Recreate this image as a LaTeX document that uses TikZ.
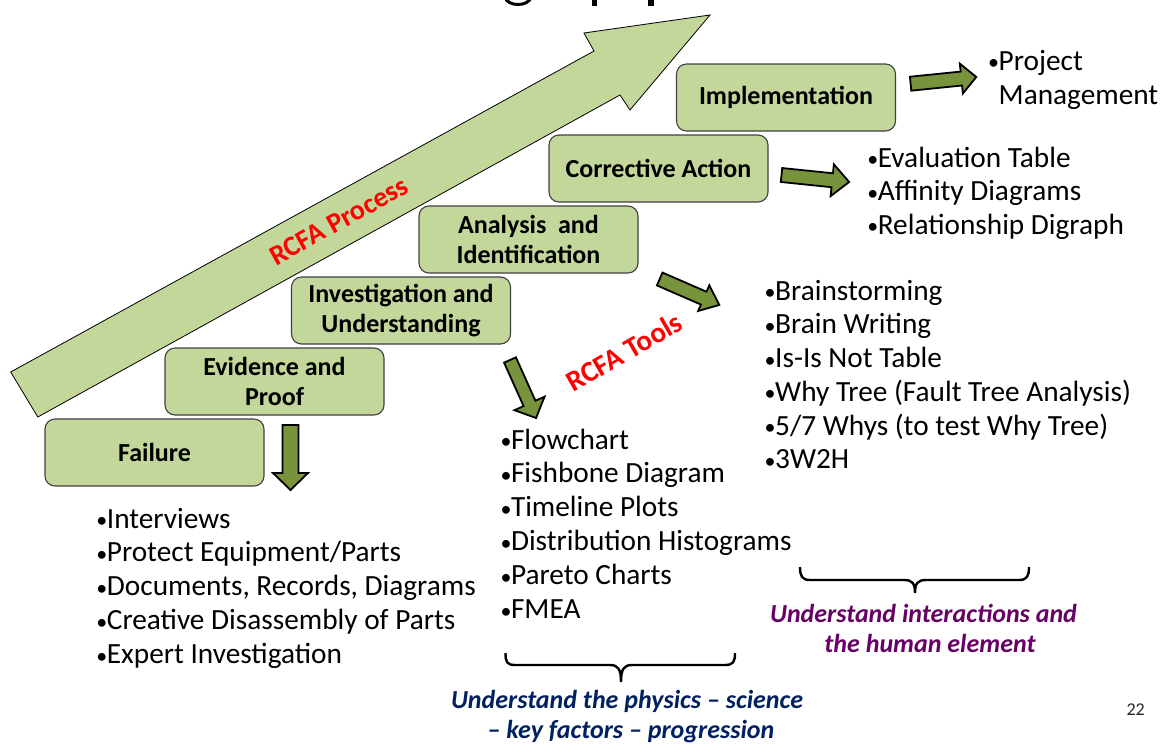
\documentclass[tikz,border=0pt]{standalone}
\usepackage{fontspec}
\setmainfont{Carlito}
\definecolor{boxgreen}{HTML}{C4D79B}
\definecolor{olivefill}{HTML}{77933C}
\definecolor{navytxt}{HTML}{002060}
\definecolor{plumtxt}{HTML}{660066}
\definecolor{redtxt}{HTML}{FF0000}
\newcommand{\bul}{\makebox[13pt][l]{\hspace{2.5pt}\raisebox{0.5pt}{\fontsize{22}{22}\selectfont •}}}
\newcommand{\barrow}[7]{%
  \begin{scope}[shift={(#1,#2)},rotate=#3]
    \draw[smallarrow] (0,{-#5/2}) -- ({#4-#7},{-#5/2}) -- ({#4-#7},{-#6/2}) -- (#4,0) -- ({#4-#7},{#6/2}) -- ({#4-#7},{#5/2}) -- (0,{#5/2}) -- cycle;
  \end{scope}}
\begin{document}
\begin{tikzpicture}[x=1pt,y=-1pt,
  stepbox/.style={draw=black!75, line width=1.1pt, fill=boxgreen, rounded corners=10pt,
    minimum width=219pt, minimum height=67pt, inner sep=0pt, align=center,
    font=\bfseries\fontsize{26}{30}\selectfont},
  listtxt/.style={anchor=base west, inner sep=0pt, font=\fontsize{29.3}{34}\selectfont},
  smallarrow/.style={fill=olivefill, draw=black, line width=1.8pt, line join=miter},
  bigarrow/.style={fill=boxgreen, draw=black, line width=0.8pt, line join=miter},
  bracestyle/.style={draw=black, line width=2.4pt},
  redlbl/.style={text=redtxt, inner sep=0pt, font=\bfseries\fontsize{28.2}{32}\selectfont},
  navylbl/.style={text=navytxt, anchor=base, inner sep=0pt, font=\bfseries\itshape\fontsize{26}{30}\selectfont},
  plumlbl/.style={text=plumtxt, anchor=base, inner sep=0pt, font=\bfseries\itshape\fontsize{26}{30}\selectfont}
]
\useasboundingbox (0,0) rectangle (1169,753);
\clip (0,0) rectangle (1169,753);

% cut-off title descenders
\fill (591.7,-1) rectangle (596.7,5.5);
\fill (648,-1) rectangle (653.5,5.5);
\draw[line width=3pt] (505,-3) .. controls (507,7) and (529,7) .. (531,-3);

% big process arrow
\draw[bigarrow] (10.7,372) -- (594,51) -- (584,33) -- (710,15) -- (630,110) -- (620,95) -- (37.8,417) -- cycle;
\node[redlbl, rotate=29] (rproc) at (339,221) {RCFA Process};

% steps
\node[stepbox] (fail) at (154.5,452.5) {Failure};
\node[stepbox] (evid) at (274.5,381.5) {Evidence and\\Proof};
\node[stepbox] (inv)  at (401,310.5) {Investigation and\\Understanding};
\node[stepbox] (anal) at (528.5,239.5) {Analysis~ and\\Identification};
\node[stepbox] (corr) at (658.5,168.5) {Corrective Action};
\node[stepbox] (impl) at (786,97.5) {Implementation};

% block arrows
\barrow{290.5}{425}{-90}{65}{16}{35}{17}
\barrow{510}{360}{-65.8}{63.6}{13}{33}{16}
\barrow{659.7}{279}{-23.5}{65}{14}{28}{17}
\barrow{781.5}{175}{-5.9}{68}{14}{32}{17}
\barrow{910.6}{83.7}{5.8}{66}{14}{30}{15}

\node[redlbl, font=\bfseries\fontsize{29}{32}\selectfont, rotate=30] (rtools) at (624,352) {RCFA Tools};

% lists
\node[listtxt] (pm1) at (985.5,70) {\bul Project};
\node[listtxt] (pm2) at (985.5,104) {\phantom{\bul}Management};

\foreach \t [count=\i from 0] in {Evaluation Table, Affinity Diagrams, Relationship Digraph}
  \node[listtxt] (ca\i) at (864.6,{167+33.5*\i}) {\bul\t};

\foreach \t [count=\i from 0] in {Brainstorming, Brain Writing, Is-Is Not Table, Why Tree (Fault Tree Analysis), 5/7 Whys (to test Why Tree), 3W2H}
  \node[listtxt] (an\i) at (762,{300+33.75*\i}) {\bul\t};

\foreach \t [count=\i from 0] in {Flowchart, Fishbone Diagram, Timeline Plots, Distribution Histograms, Pareto Charts, FMEA}
  \node[listtxt] (iv\i) at (497.8,{449+33.9*\i}) {\bul\t};

\foreach \t [count=\i from 0] in {Interviews, Protect Equipment/Parts, {Documents, Records, Diagrams}, Creative Disassembly of Parts, Expert Investigation}
  \node[listtxt] (fl\i) at (93.7,{528+33.9*\i}) {\bul\t};

% braces
\draw[bracestyle] (505.5,653) .. controls (505.5,662) and (507,665) .. (515,665) -- (610,665)
  .. controls (618,665) and (621,669) .. (621,682) .. controls (621,669) and (624,665) .. (632,665)
  -- (725,665) .. controls (733,665) and (735,662) .. (735,653);
\draw[bracestyle] (800,567) .. controls (800,576) and (802,580) .. (810,580) -- (904,580)
  .. controls (912,580) and (915,583) .. (915,593) .. controls (915,583) and (918,580) .. (926,580)
  -- (1019,580) .. controls (1027,580) and (1029,576) .. (1029,567);

\node[navylbl] (lab1a) at (627,708) {Understand the physics – science};
\node[navylbl] (lab1b) at (631,738) {– key factors – progression};
\node[plumlbl] (lab2a) at (923.5,622) {Understand interactions and};
\node[plumlbl] (lab2b) at (930,652) {the human element};

\node[anchor=base east, inner sep=0pt, text=black!85, font=\fontsize{18}{22}\selectfont] (pg) at (1145,715) {22};
\end{tikzpicture}
\end{document}
